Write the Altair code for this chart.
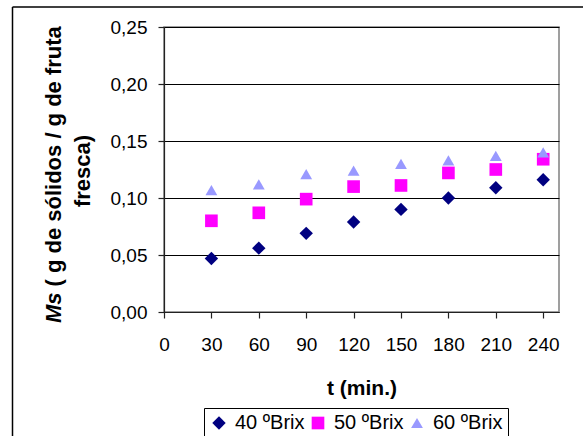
import altair as alt
import pandas as pd

# ---- data ----
t_min = [30, 60, 90, 120, 150, 180, 210, 240]
brix40 = [0.047, 0.056, 0.069, 0.079, 0.090, 0.100, 0.109, 0.116]
brix50 = [0.080, 0.087, 0.099, 0.110, 0.111, 0.122, 0.125, 0.134]
brix60 = [0.107, 0.112, 0.121, 0.124, 0.130, 0.133, 0.137, 0.140]
series = ["40 ºBrix", "50 ºBrix", "60 ºBrix"]
colors = ["#000080", "#FF00FF", "#9999FF"]
shapes = ["diamond", "square", "triangle-up"]
sizes = [180, 140, 215]
x_ticks = [0, 30, 60, 90, 120, 150, 180, 210, 240]
y_ticks = [0.0, 0.05, 0.10, 0.15, 0.20, 0.25]

rows = []
for name, vals in zip(series, [brix40, brix50, brix60]):
    for t, v in zip(t_min, vals):
        rows.append({"t": t, "Ms": v, "serie": name})
df = pd.DataFrame(rows)

FONT = "Liberation Sans"
W, H = 395, 285

leg = alt.Legend(
    title=None, orient="none", legendX=40, legendY=381, direction="horizontal",
    columns=3, padding=5, strokeColor="#000000", fillColor="white",
    labelFontSize=20, labelFont=FONT, labelColor="black", symbolSize=175,
    labelOffset=6, columnPadding=3, symbolStrokeWidth=0, symbolOpacity=1,
)

points = alt.Chart(df).mark_point(filled=True, opacity=1, strokeWidth=0).encode(
    x=alt.X("t:Q", scale=alt.Scale(domain=[0, 250], nice=False, zero=True),
            axis=alt.Axis(values=x_ticks, title="t (min.)", grid=False, tickSize=6,
                          labelPadding=17, titleFontSize=21, titleFontWeight="bold",
                          titleBaseline="alphabetic", titleY=82, titleFont=FONT,
                          labelFlush=False)),
    y=alt.Y("Ms:Q", scale=alt.Scale(domain=[0, 0.25], nice=False),
            axis=alt.Axis(values=y_ticks, title=None, grid=True, gridColor="black",
                          gridWidth=1, tickSize=6, labelPadding=11,
                          labelExpr="replace(format(datum.value, '.2f'), '.', ',')")),
    color=alt.Color("serie:N", scale=alt.Scale(domain=series, range=colors), legend=leg),
    shape=alt.Shape("serie:N", scale=alt.Scale(domain=series, range=shapes), legend=leg),
    size=alt.Size("serie:N", scale=alt.Scale(domain=series, range=sizes), legend=None),
    order=alt.Order("serie:N"),
)

one = pd.DataFrame({"k": [0]})

frame_top = alt.Chart(one).mark_rule(color="black", strokeWidth=1.5).encode(
    x=alt.value(-151.5), x2=alt.value(440), y=alt.value(-20))
frame_left = alt.Chart(one).mark_rule(color="black", strokeWidth=1.5).encode(
    x=alt.value(-151.5), y=alt.value(-20), y2=alt.value(430))

ms_text = alt.Chart(pd.DataFrame({"s": ["Ms"]})).mark_text(
    angle=270, align="left", baseline="alphabetic", font=FONT, fontSize=22,
    fontWeight="bold", fontStyle="italic", color="black").encode(
    x=alt.value(-103.5), y=alt.value(296), text="s:N")
rest_text = alt.Chart(pd.DataFrame({"s": ["( g de sólidos / g de fruta"]})).mark_text(
    angle=270, align="left", baseline="alphabetic", font=FONT, fontSize=22,
    fontWeight="bold", color="black").encode(
    x=alt.value(-103.5), y=alt.value(259.5), text="s:N")
line2_text = alt.Chart(pd.DataFrame({"s": ["fresca)"]})).mark_text(
    angle=270, align="center", baseline="alphabetic", font=FONT, fontSize=22,
    fontWeight="bold", color="black").encode(
    x=alt.value(-74.5), y=alt.value(144), text="s:N")

chart = alt.layer(points, frame_top, frame_left, ms_text, rest_text, line2_text).properties(
    width=W, height=H,
    autosize=alt.AutoSizeParams(type="none"),
    padding={"left": 164, "top": 27, "right": 24, "bottom": 124},
    background="white",
).configure_view(
    stroke="#808080", strokeWidth=1.5
).configure_axis(
    labelFont=FONT, labelFontSize=19, labelColor="black",
    domainColor="#222222", tickColor="#222222", domainWidth=1.2, tickWidth=1.2,
    titleColor="black",
)

chart.save("out.html", embed_options={"renderer": "svg", "actions": False})
